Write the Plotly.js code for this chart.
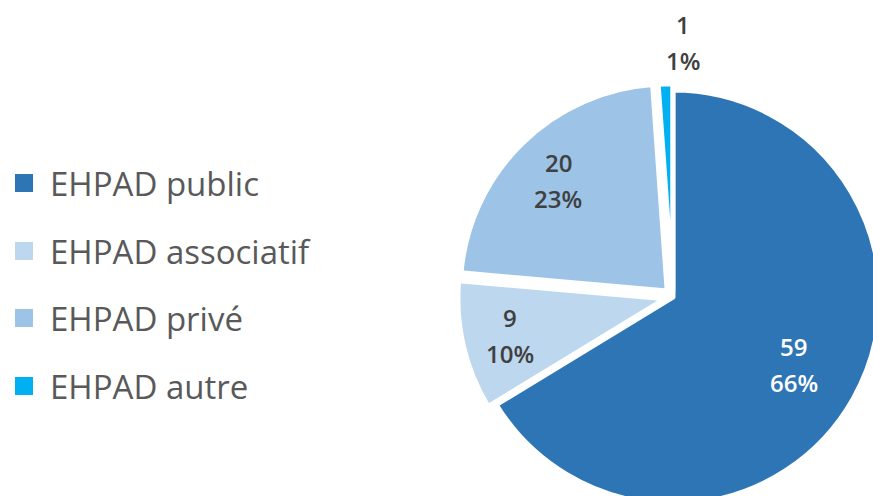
<!DOCTYPE html>
<html>
<head>
<meta charset="utf-8">
<script src="https://cdn.plot.ly/plotly-3.0.1.min.js"></script>
<style>
html,body{margin:0;padding:0;overflow:hidden;background:#fff;width:873px;height:496px;}
#chart{width:900px;height:520px;}
</style>
</head>
<body>
<div id="chart"></div>
<script>
// Data
var categories = ["EHPAD public", "EHPAD associatif", "EHPAD privé", "EHPAD autre"];
var counts = [59, 9, 20, 1];
var percentLabels = ["66%", "10%", "23%", "1%"];
var colors = ["#2E75B6", "#BDD7EE", "#9DC3E6", "#00B0F0"];
var labelColors = ["#FFFFFF", "#404040", "#404040", "#404040"];

var W = 900, H = 520;
function px(x){ return x / W; }
function py(y){ return 1 - y / H; }

// pie geometry (pixels)
var CX = 673, CY = 297, R = 207;
var pulls = [0, 0.04, 0.04, 0.03];
var maxPull = Math.max.apply(null, pulls);
var half = R * (1 + maxPull);

var trace = {
  type: "pie",
  labels: categories,
  values: counts,
  textinfo: "none",
  sort: false,
  direction: "clockwise",
  rotation: 0,
  pull: pulls,
  marker: { colors: colors, line: { color: "#FFFFFF", width: 5 } },
  domain: { x: [px(CX - half), px(CX + half)], y: [py(CY + half), py(CY - half)] },
  hoverinfo: "label+value+percent",
  showlegend: false
};

var annotations = [], shapes = [];

// Data labels placed at each slice's mid angle
var labelRadius = [0.67, 0.81, 0.79, 1.23];
var labelXShift = [0, 0, 0, 19];
var total = counts.reduce(function(a, b){ return a + b; }, 0);
var cum = 0;
counts.forEach(function(v, i){
  var mid = (cum + v / 2) / total * 2 * Math.PI;
  cum += v;
  var d = labelRadius[i] * R;
  var lx = CX + d * Math.sin(mid) + labelXShift[i];
  var ly = CY - d * Math.cos(mid);
  [String(v), percentLabels[i]].forEach(function(t, j){
    annotations.push({
      xref: "paper", yref: "paper",
      x: px(lx), y: py(ly + (j === 0 ? -18 : 18)),
      xanchor: "center", yanchor: "middle",
      text: t, showarrow: false,
      font: { family: "Open Sans", size: 24, color: labelColors[i], weight: 600 }
    });
  });
});

// Legend drawn from categories/colors
var legendY = [183, 251, 318, 386];
categories.forEach(function(c, i){
  annotations.push({
    xref: "paper", yref: "paper",
    x: px(48), y: py(legendY[i]),
    xanchor: "left", yanchor: "middle",
    text: c, showarrow: false,
    font: { family: "Open Sans", size: 33, color: "#595959" }
  });
  shapes.push({
    type: "rect", xref: "paper", yref: "paper",
    x0: px(15), x1: px(33), y0: py(legendY[i] - 9), y1: py(legendY[i] + 9),
    fillcolor: colors[i], line: { width: 0 }
  });
});

var layout = {
  width: W, height: H,
  margin: { l: 0, r: 0, t: 0, b: 0 },
  paper_bgcolor: "#FFFFFF",
  showlegend: false,
  annotations: annotations,
  shapes: shapes
};

Plotly.newPlot("chart", [trace], layout, { displayModeBar: false, staticPlot: true });
</script>
</body>
</html>
